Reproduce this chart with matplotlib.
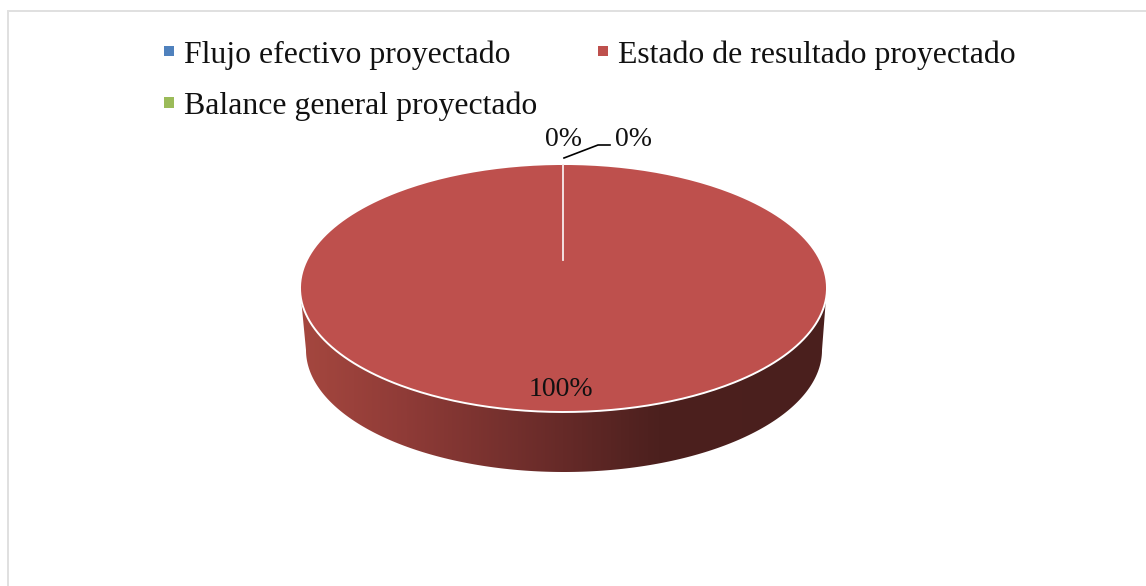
import numpy as np
import matplotlib
matplotlib.use("Agg")
import matplotlib.pyplot as plt
from matplotlib.colors import LinearSegmentedColormap
from matplotlib.patches import Polygon

# data
categories = ['Flujo efectivo proyectado', 'Estado de resultado proyectado', 'Balance general proyectado']
values = [0, 100, 0]
colors = ['#4F81BD', '#BE504D', '#9BBB59']

W, H = 1146, 586
plt.rcParams['font.family'] = ['Liberation Serif', 'DejaVu Serif']

fig = plt.figure(figsize=(W / 100, H / 100), dpi=100, facecolor='white')

# background axes in pixel units: frame and side of the disc
ax_bg = fig.add_axes([0, 0, 1, 1])
ax_bg.set_xlim(0, W)
ax_bg.set_ylim(H, 0)
ax_bg.axis('off')

# thin chart frame, open towards the bottom and the right
ax_bg.plot([8, 8, W], [H, 11, 11], color='#E0E0E0', lw=1.4, solid_joinstyle='miter')

# side of the disc, gradient clipped to the lower half ellipse
theta = np.linspace(0, np.pi, 200)
low_x = 564 + 258 * np.cos(theta)
low_y = 350 + 122 * np.sin(theta)
side_xy = np.column_stack([np.r_[826, low_x, 301], np.r_[298, low_y, 298]])
side = Polygon(side_xy, closed=True, transform=ax_bg.transData, facecolor='none', edgecolor='none')
ax_bg.add_patch(side)
shade = LinearSegmentedColormap.from_list('side', [
    (0.0, '#A5473F'), (0.2, '#8F3B37'), (0.5, '#662A28'), (0.68, '#4C201E'), (1.0, '#4A1F1D')])
grad = ax_bg.imshow(np.linspace(0, 1, 512)[None, :], cmap=shade, aspect='auto',
                    extent=[300, 827, 480, 290], zorder=2)
grad.set_clip_path(side)
ax_bg.set_xlim(0, W)
ax_bg.set_ylim(H, 0)

# top of the disc, a real pie squeezed into an ellipse
ax = fig.add_axes([300 / W, (H - 412) / H, 527 / W, 248 / H], zorder=3)
wedges, _ = ax.pie(values, colors=colors, startangle=90, counterclock=False, radius=1.0,
                   wedgeprops={'edgecolor': 'none'})
ax.set_aspect('auto')
ax.set_xlim(-1, 1)
ax.set_ylim(-1, 1)
ax.patch.set_alpha(0)

# white rim and the white radial line of the empty slices
t = np.linspace(0, 2 * np.pi, 400)
ax.plot(np.cos(t), np.sin(t), color='white', lw=1.4, clip_on=False)
ax.plot([-0.001, -0.001], [1, 0.226], color='#F8ECEC', lw=1.3)

# labels
txt = {'fontsize': 20, 'color': '#111111', 'ha': 'center', 'va': 'center',
       'transform': ax_bg.transData, 'clip_on': False}
ax.text(563, 139, f'{values[0]}%', **txt)
ax.text(634, 139, f'{values[2]}%', **txt)
ax.text(561, 389, f'{values[1]}%', **txt)
ax.plot([564, 598, 610], [158, 145, 145], color='black', lw=1.2,
        transform=ax_bg.transData, clip_on=False)

# legend, column order gives Flujo / Estado on the first row
order = [0, 2, 1]
fs = 22.9
fig.legend([wedges[i] for i in order], [categories[i] for i in order],
           ncol=2, loc='upper left', bbox_to_anchor=(164 / W, 1 - 40 / H),
           frameon=False, fontsize=fs, handlelength=0.33, handleheight=0.13,
           handletextpad=0.31, columnspacing=1.89, labelspacing=0.7,
           borderpad=0, borderaxespad=0, labelcolor='#111111')

fig.savefig('out.png', dpi=100)
